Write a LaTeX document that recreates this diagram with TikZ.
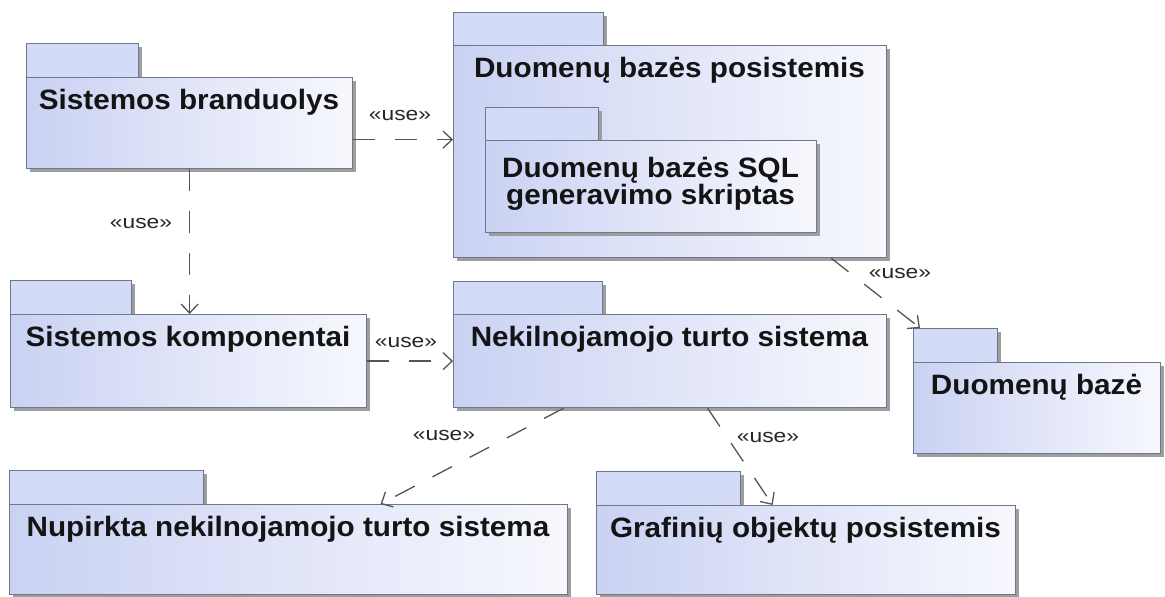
\documentclass[tikz,border=0pt]{standalone}
\usepackage{fontspec}
\newfontfamily\pkgfont{Liberation Sans}[FakeStretch=1.06]
\newfontfamily\stereofont{Liberation Sans}[FakeStretch=1.2]
\usetikzlibrary{arrows.meta,shadows,calc}
\definecolor{pkgline}{HTML}{6E788C}
\definecolor{pkgleft}{HTML}{CAD2F3}
\definecolor{pkgright}{HTML}{F7F8FD}
\definecolor{pkgtabfill}{HTML}{D4DBF7}
\definecolor{depline}{HTML}{555555}
\tikzset{
  pkgshadow/.style={drop shadow={shadow xshift=3pt, shadow yshift=-3pt, fill=black!38, opacity=1}},
  pkgbody/.style={draw=pkgline, line width=1.2pt, left color=pkgleft, right color=pkgright,
    pkgshadow, inner sep=0pt, anchor=north west},
  pkgtab/.style={draw=pkgline, line width=1.2pt, fill=pkgtabfill, pkgshadow,
    inner sep=0pt, anchor=north west},
  pkgname/.style={font=\pkgfont\bfseries\fontsize{28}{27}\selectfont, anchor=base,
    inner sep=0pt, text=black!92, align=center},
  stereo/.style={font=\stereofont\fontsize{19}{19}\selectfont, text=black!85, inner sep=0pt},
  usedep/.style={draw=depline, line width=1.3pt, dash pattern=on 22pt off 20pt,
    -{Straight Barb[length=9pt,width=17pt,line width=1.3pt]}}
}
% a package: tab (x0,x1,y0) and body (x0,x1,y0,y1), in pixels from the top left
\newcommand{\umlpkg}[8]{%
  \node[pkgtab, minimum width=#3pt-#2pt, minimum height=#5pt-#4pt] (#1tab) at (#2,#4) {};
  \node[pkgbody, minimum width=#6pt-#2pt, minimum height=#7pt-#5pt] (#1) at (#2,#5) {};
  \node[pkgname] (#1name) at ($(#2,#5)!0.5!(#6,#5)+(0,32)$) {#8};
}
\begin{document}
\begin{tikzpicture}[x=1pt,y=-1pt]
\useasboundingbox (0,0) rectangle (1165,597);
\fill[white] (0,0) rectangle (1165,597);

% packages
\umlpkg{kernel}{26}{138}{43}{77}{352}{168}{Sistemos branduolys}
\umlpkg{dbsub}{453}{603}{12}{45}{886}{257}{Duomenų bazės posistemis}
\node[pkgtab, minimum width=113pt, minimum height=33pt] (sqltab) at (485,107) {};
\node[pkgbody, minimum width=331pt, minimum height=92pt] (sql) at (485,140) {};
\node[pkgname] (sqlname1) at (650.5,177) {Duomenų bazės SQL};
\node[pkgname] (sqlname2) at (650.5,204) {generavimo skriptas};
\umlpkg{comp}{10}{131}{280}{314}{366}{407}{Sistemos komponentai}
\umlpkg{realty}{453}{602}{281}{314}{886}{407}{Nekilnojamojo turto sistema}
\umlpkg{db}{913}{997}{328}{362}{1160}{453}{Duomenų bazė}
\umlpkg{bought}{9}{203}{470}{504}{567}{594}{Nupirkta nekilnojamojo turto sistema}
\umlpkg{graph}{596}{740}{471}{505}{1015}{594}{Grafinių objektų posistemis}

% «use» dependencies
\draw[usedep] ([yshift=-16.5pt]kernel.east) -- ([yshift=12pt]dbsub.west);
\node[stereo] (u1) at (400,115) {«use»};
\draw[usedep] (kernel.south) -- (kernel.south |- comp.north);
\node[stereo] (u2) at (141,223) {«use»};
\draw[usedep] (comp.east) -- (comp.east -| realty.west);
\node[stereo] (u3) at (406,342) {«use»};
\draw[usedep] ([xshift=-56pt]dbsub.south east) -- ([xshift=7pt]dbtab.north west);
\node[stereo] (u4) at (900,273) {«use»};
\draw[usedep] ([xshift=-106.5pt]realty.south) -- ([xshift=92pt]bought.north);
\node[stereo] (u5) at (444,435) {«use»};
\draw[usedep] ([xshift=37.5pt]realty.south) -- ([xshift=-33.5pt]graph.north);
\node[stereo] (u6) at (768,437) {«use»};
\end{tikzpicture}
\end{document}
